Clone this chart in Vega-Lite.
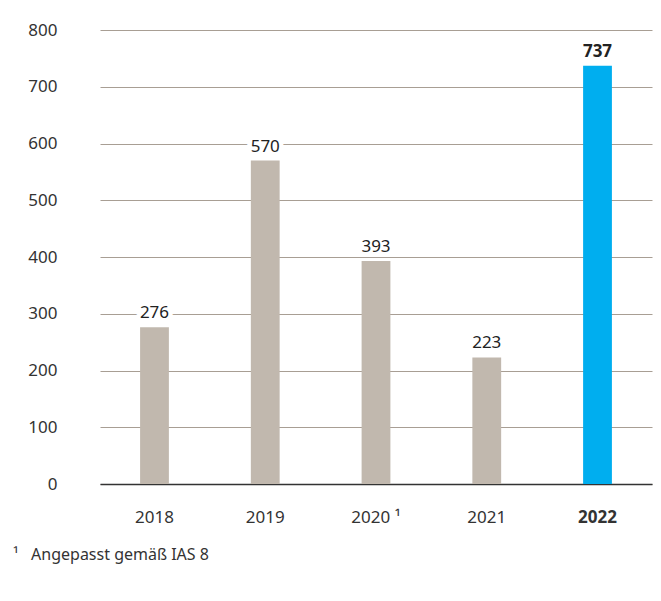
{
  "$schema": "https://vega.github.io/schema/vega-lite/v6.json",
  "width": 552,
  "height": 454,
  "autosize": {"type": "none"},
  "padding": {"left": 100, "top": 30, "right": 9, "bottom": 117},
  "background": "white",
  "config": {
    "view": {"stroke": null},
    "font": "Noto Sans",
    "text": {"font": "Noto Sans"}
  },
  "title": {
    "text": "¹\u00a0\u00a0\u00a0Angepasst gemäß IAS 8",
    "orient": "bottom",
    "anchor": "start",
    "frame": "group",
    "dx": -87,
    "offset": 22,
    "fontSize": 16,
    "fontWeight": "normal",
    "color": "#333333",
    "font": "Noto Sans"
  },
  "data": {
    "values": [
      {"year": "2018", "value": 276, "hl": "no"},
      {"year": "2019", "value": 570, "hl": "no"},
      {"year": "2020", "value": 393, "hl": "no"},
      {"year": "2021", "value": 223, "hl": "no"},
      {"year": "2022", "value": 737, "hl": "yes"}
    ]
  },
  "encoding": {
    "x": {
      "field": "year",
      "type": "nominal",
      "sort": null,
      "scale": {"paddingInner": 0.74, "paddingOuter": 0.362},
      "axis": {
        "title": null,
        "labelAngle": 0,
        "ticks": false,
        "domain": true,
        "domainColor": "#333333",
        "domainWidth": 1.5,
        "labelPadding": 25,
        "labelFontSize": 17,
        "labelColor": "#333333",
        "labelFont": "Noto Sans",
        "labelExpr": "datum.value == '2020' ? '2020 ¹' : datum.value",
        "labelFontWeight": {"condition": {"test": "datum.value == '2022'", "value": "bold"}, "value": "normal"}
      }
    },
    "y": {
      "field": "value",
      "type": "quantitative",
      "scale": {"domain": [0, 800], "nice": false},
      "axis": {
        "title": null,
        "values": [0, 100, 200, 300, 400, 500, 600, 700, 800],
        "ticks": false,
        "domain": false,
        "grid": true,
        "gridColor": "#a89e94",
        "gridWidth": 1,
        "labelPadding": 43,
        "labelFontSize": 17,
        "labelColor": "#333333",
        "labelFont": "Noto Sans"
      }
    }
  },
  "layer": [
    {
      "mark": {"type": "bar"},
      "encoding": {
        "color": {
          "field": "hl",
          "type": "nominal",
          "scale": {"domain": ["no", "yes"], "range": ["#c1b8ae", "#00aeef"]},
          "legend": null
        }
      }
    },
    {
      "transform": [{"filter": "datum.hl == 'no'"}],
      "mark": {"type": "text", "baseline": "alphabetic", "dy": -9, "fontSize": 17, "fontWeight": "normal", "stroke": "white", "strokeWidth": 9, "fill": "white"},
      "encoding": {"text": {"field": "value", "type": "quantitative"}}
    },
    {
      "transform": [{"filter": "datum.hl == 'yes'"}],
      "mark": {"type": "text", "baseline": "alphabetic", "dy": -9, "fontSize": 17, "fontWeight": "bold", "stroke": "white", "strokeWidth": 9, "fill": "white"},
      "encoding": {"text": {"field": "value", "type": "quantitative"}}
    },
    {
      "transform": [{"filter": "datum.hl == 'no'"}],
      "mark": {"type": "text", "baseline": "alphabetic", "dy": -9, "fontSize": 17, "fontWeight": "normal", "fill": "#222222"},
      "encoding": {"text": {"field": "value", "type": "quantitative"}}
    },
    {
      "transform": [{"filter": "datum.hl == 'yes'"}],
      "mark": {"type": "text", "baseline": "alphabetic", "dy": -9, "fontSize": 17, "fontWeight": "bold", "fill": "#222222"},
      "encoding": {"text": {"field": "value", "type": "quantitative"}}
    }
  ]
}
